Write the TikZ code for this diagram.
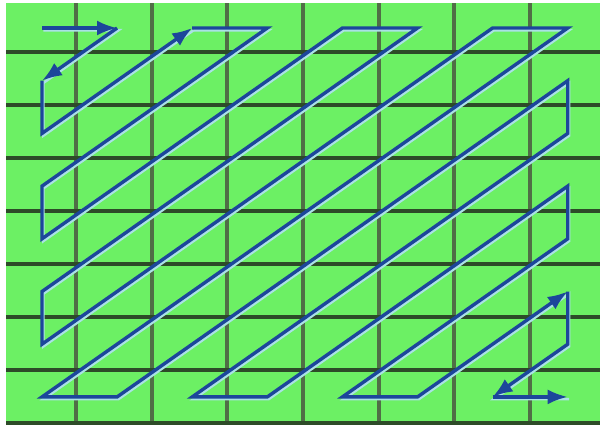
\documentclass[tikz,border=0pt]{standalone}
\usetikzlibrary{arrows.meta}
\definecolor{cellgreen}{RGB}{108,240,100}
\definecolor{gridh}{RGB}{45,75,40}
\definecolor{gridv}{RGB}{80,110,70}
\definecolor{scanblue}{RGB}{28,70,155}
\definecolor{scanlight}{RGB}{170,225,230}
\tikzset{
  gridvline/.style={gridv, line width=4pt},
  gridhline/.style={gridh, line width=4pt},
  scanline/.style={scanblue, line width=3.4pt},
  scanglow/.style={scanlight, line width=2.6pt, transform canvas={shift={(1.4pt,-2.2pt)}}},
  scanarrow/.style={scanline, -{Latex[length=20pt,width=15pt]}}
}
\begin{document}
\begin{tikzpicture}[x=1pt,y=-1pt]
\useasboundingbox (0,0) rectangle (600,429);
\fill[white] (0,0) rectangle (600,429);
\fill[cellgreen] (6,3) rectangle (600,425);
\foreach \x in {76.1,151.7,227.3,302.9,378.5,454.1,529.7}
  \draw[gridvline] (\x,3) -- (\x,425);
\foreach \y in {52,105,158,211,264,317,370,423}
  \draw[gridhline] (6,\y) -- (600,\y);
\foreach \j in {0,...,7}
  \foreach \i in {0,...,7}
    \coordinate (c\j\i) at ({42+75.1*\j},{28+52.7*\i});
% light highlight under the scan path
\draw[scanglow] (c00) -- (c10) -- (c01) -- (c02) -- (c20);
\draw[scanglow] (c20) -- (c30) -- (c03) -- (c04) -- (c40) -- (c50) -- (c05) -- (c06) -- (c60) -- (c70) -- (c07) -- (c17) -- (c71) -- (c72) -- (c27) -- (c37) -- (c73) -- (c74) -- (c47) -- (c57) -- (c75) -- (c76) -- (c67) -- (c77);
% scan path
\draw[scanarrow] (c00) -- (c10);
\draw[scanarrow] (c10) -- (c01);
\draw[scanarrow] (c01) -- (c02) -- (c20);
\draw[scanarrow] (c20) -- (c30) -- (c03) -- (c04) -- (c40) -- (c50) -- (c05) -- (c06) -- (c60) -- (c70) -- (c07) -- (c17) -- (c71) -- (c72) -- (c27) -- (c37) -- (c73) -- (c74) -- (c47) -- (c57) -- (c75);
\draw[scanarrow] (c75) -- (c76) -- (c67);
\draw[scanarrow] (c67) -- (c77);
\end{tikzpicture}
\end{document}
